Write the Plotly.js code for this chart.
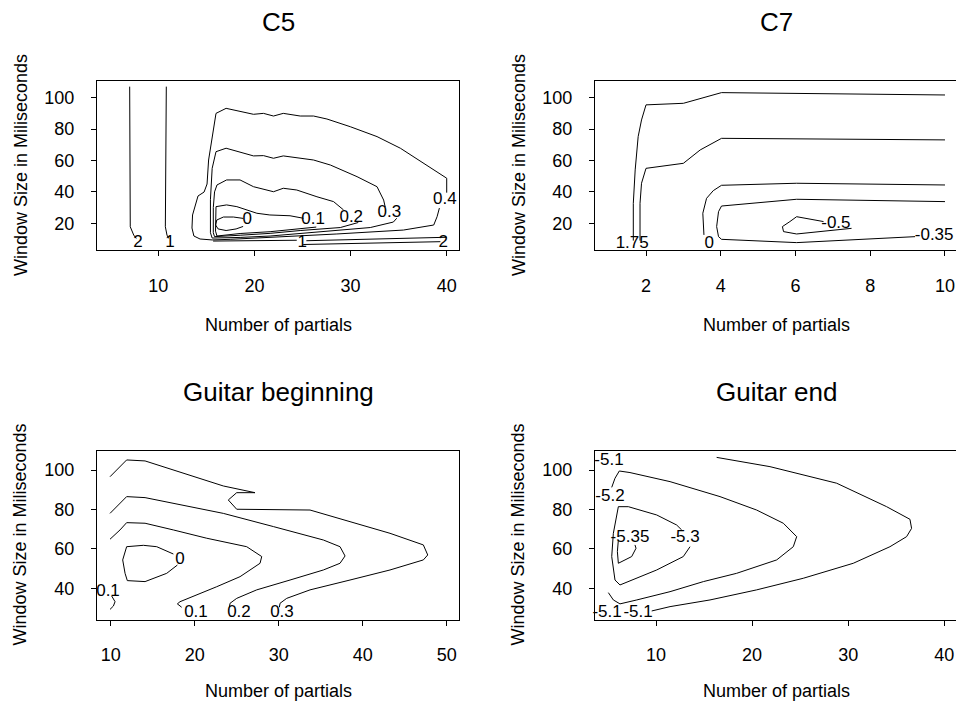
<!DOCTYPE html>
<html>
<head>
<meta charset="utf-8">
<script src="https://cdn.plot.ly/plotly-3.0.1.min.js"></script>
<style>
html,body{margin:0;padding:0;overflow:hidden;background:#fff;}
#chart{width:960px;height:706px;}
</style>
</head>
<body>
<div id="chart"></div>
<script>
// ---------- Panel titles and axis titles ----------
const panelTitles = ["C5", "C7", "Guitar beginning", "Guitar end"];
const xTitle = "Number of partials";
const yTitle = "Window Size in Miliseconds";

// ---------- Tick values ----------
const c5_xticks = [10, 20, 30, 40];
const c7_xticks = [2, 4, 6, 8, 10];
const gb_xticks = [10, 20, 30, 40, 50];
const ge_xticks = [10, 20, 30, 40];
const top_yticks = [20, 40, 60, 80, 100];
const bot_yticks = [40, 60, 80, 100];

// ---------- C5 contours ----------
const c5_l2_x = [7.02, 7.02, 7.05, 7.08, 7.44, 7.71];
const c5_l2_y = [107, 80, 40, 17.8, 12.5, 10.4];
const c5_l1_x = [10.83, 10.8, 10.75, 10.73, 10.9, 11.08];
const c5_l1_y = [107, 70, 35, 17.8, 12.5, 10.4];
const c5_c0_x = [18.85, 17.81, 16.77, 16.08, 15.96, 16.22, 17.05, 18.09, 18.82];
const c5_c0_y = [23.1, 24.0, 24.0, 22.1, 18.9, 16.4, 15.4, 16.4, 18.0];
const c5_c01_x = [26.43, 24.24, 21.63, 18.51, 16.63, 16.1, 15.95, 15.95, 16.0, 17.1, 18.17, 20.25, 21.6, 23.7, 25.1];
const c5_c01_y = [17.6, 16.1, 14.65, 13.5, 12.5, 11.9, 15, 25, 30.6, 31.7, 30.6, 26.4, 25.3, 24.8, 23.2];
const c5_c02_x = [30.8, 28.93, 24.76, 21.63, 18.51, 16.22, 15.85, 15.72, 15.72, 15.85, 16.1, 17.1, 18.5, 19.9, 21.98, 23.0, 24.4, 26.5, 28.23, 29.27];
const c5_c02_y = [20.5, 17.3, 15.4, 13.6, 12.4, 11.3, 11.5, 14, 30, 40, 44.4, 47.6, 47.6, 43.3, 40.1, 42.3, 41.2, 36.9, 33.8, 28.5];
const c5_c03_x = [34.8, 34.45, 32.05, 27.88, 21.63, 18.51, 15.9, 15.6, 15.42, 15.42, 15.6, 16.0, 17.05, 19.9, 20.94, 21.98, 23.0, 24.76, 26.15, 27.9, 30.67, 32.75, 33.44, 33.6];
const c5_c03_y = [23.2, 20.8, 17.3, 15.1, 11.9, 11.0, 10.3, 10.6, 14, 35, 55, 65.6, 67.8, 62.9, 63.1, 61.4, 62.9, 61.4, 60.3, 57.1, 49.7, 43.3, 34.8, 30.4];
const c5_c04_x = [39.24, 39.0, 38.65, 35.5, 28.57, 21.63, 17.47, 15.6, 14.34, 13.7, 13.5, 13.56, 13.88, 14.13, 14.76, 15.07, 15.23, 15.6, 16.0, 17.05, 19.9, 20.94, 21.98, 23.0, 24.76, 26.15, 27.54, 29.97, 32.75, 35.18, 37.96, 40.0, 40.0];
const c5_c04_y = [29.7, 24.2, 18.9, 15.7, 13.2, 10.8, 9.8, 9.4, 10.0, 11.9, 17, 25.3, 31.7, 37.4, 39.9, 45, 60.3, 76.2, 90, 93.2, 89.4, 90, 88.3, 90, 88.3, 88.3, 86.4, 81.5, 75.2, 67.8, 57.1, 48.7, 39.5];
const c5_c1a_x = [15.7, 18.5, 21.6, 24.4];
const c5_c1a_y = [8.7, 9.0, 9.2, 9.2];
const c5_c1b_x = [25.4, 40.0];
const c5_c1b_y = [8.9, 11.1];
const c5_c2b_x = [25.07, 39.34];
const c5_c2b_y = [6.5, 8.3];
const c5_lab_text = ["2", "1", "0", "0.1", "0.2", "0.3", "0.4", "1", "2"];
const c5_lab_x = [7.89, 11.22, 19.24, 26.11, 30.07, 34.03, 39.8, 24.97, 39.65];
const c5_lab_y = [7.45, 7.45, 22.1, 22.1, 23.4, 26.6, 34.8, 7.45, 7.45];

// ---------- C7 contours ----------
const c7_a_x = [1.66, 1.66, 1.71, 1.79, 1.88, 2.0, 3.0, 4.02, 10.0];
const c7_a_y = [9, 32.7, 54, 75.2, 85.8, 95.4, 96.4, 103.2, 101.7];
const c7_b_x = [1.84, 1.84, 1.88, 2.0, 3.0, 3.45, 4.02, 10.0];
const c7_b_y = [9, 32.7, 45.5, 55, 58.2, 66.7, 74.1, 73.1];
const c7_c_x = [3.55, 3.52, 3.62, 3.80, 4.02, 6.03, 10.0];
const c7_c_y = [12.6, 26.4, 35.9, 40.8, 44.2, 45.5, 44.4];
const c7_d_x = [10.0, 6.03, 4.02, 3.94, 3.89, 3.94, 4.02, 6.03, 9.2];
const c7_d_y = [33.8, 35.3, 31.0, 27.4, 17.9, 11.5, 9.8, 7.7, 11.5];
const c7_e_x = [7.5, 6.03, 5.68, 5.65, 5.85, 6.03, 6.75];
const c7_e_y = [16.8, 13.2, 14.7, 17.9, 21.1, 24.2, 21.1];
const c7_lab_text = ["1.75", "0", "-0.5", "-0.35"];
const c7_lab_x = [1.63, 3.69, 7.08, 9.71];
const c7_lab_y = [7.3, 7.3, 19.4, 11.9];

// ---------- Guitar beginning contours ----------
const gb_03_x = [9.92, 11.11, 11.9, 14.09, 17.46, 20.63, 23.41, 27.18, 25.0, 24.0, 25.0, 33.73, 37.7, 43.25, 47.22, 47.74, 47.22, 43.25, 38.49, 33.73, 30.95, 30.16, 30.08];
const gb_03_y = [96.6, 101.7, 105.1, 104.6, 100.0, 95.8, 91.9, 88.5, 88.5, 84.8, 80.1, 79.7, 74.7, 67.9, 62.0, 56.9, 54.4, 49.3, 44.2, 39.2, 34.9, 32.4, 30.4];
const gb_02_x = [9.92, 11.11, 11.9, 14.09, 17.46, 23.41, 29.37, 35.32, 37.3, 37.9, 37.3, 35.32, 31.35, 27.38, 25.0, 24.21, 24.13];
const gb_02_y = [78.0, 83.1, 86.5, 86.0, 83.1, 78.0, 71.3, 64.5, 61.1, 56.4, 52.7, 49.3, 44.2, 39.2, 34.9, 32.4, 30.4];
const gb_01_x = [9.92, 11.11, 11.9, 14.09, 17.46, 21.43, 26.19, 27.98, 27.78, 25.4, 22.62, 20.24, 18.25, 17.94, 18.45];
const gb_01_y = [64.9, 69.6, 73.3, 73.0, 69.6, 65.4, 61.1, 56.1, 52.7, 45.9, 40.8, 36.6, 33.2, 32.1, 30.4];
const gb_0_x = [17.46, 15.48, 13.89, 11.9, 11.43, 11.71, 11.98, 14.09, 16.67, 17.94];
const gb_0_y = [57.4, 61.1, 61.8, 61.1, 54.4, 47.6, 43.9, 43.4, 47.6, 51.8];
const gb_01b_x = [10.12, 10.52, 10.32, 9.92];
const gb_01b_y = [36.1, 33.2, 31.0, 29.3];
const gb_lab_text = ["0", "0.1", "0.1", "0.2", "0.3"];
const gb_lab_x = [18.25, 9.68, 20.15, 25.27, 30.39];
const gb_lab_y = [54.4, 38.3, 27.5, 27.5, 27.5];

// ---------- Guitar end contours ----------
const ge_a_x = [16.31, 21.86, 28.8, 34.0, 36.43, 36.6, 36.08, 34.35, 30.53, 25.33, 20.47, 15.62, 11.46, 9.55];
const ge_a_y = [106.4, 101.7, 93.3, 81.4, 75.0, 70.4, 66.2, 61.1, 52.7, 45.1, 39.2, 34.1, 30.7, 28.5];
const ge_b_x = [5.39, 5.73, 6.18, 7.29, 11.46, 16.66, 20.47, 23.25, 24.64, 24.29, 22.56, 18.39, 14.93, 11.46, 8.0, 6.25, 5.56, 5.04];
const ge_b_y = [91.2, 95.8, 99.5, 98.7, 94.1, 86.5, 79.7, 73.0, 66.2, 61.1, 54.4, 47.6, 43.4, 38.3, 34.1, 32.1, 34.1, 37.8];
const ge_c_x = [13.54, 12.84, 10.07, 6.25, 5.73, 5.39, 5.56, 5.91, 6.08, 7.12, 10.07, 12.15, 12.67];
const ge_c_y = [61.1, 56.1, 49.3, 41.7, 44.2, 56.1, 67.9, 78.0, 81.4, 81.4, 77.2, 72.1, 69.6];
const ge_d_x = [7.81, 7.92, 7.47, 6.08, 5.98, 6.08];
const ge_d_y = [62.0, 60.3, 56.1, 52.7, 58.6, 64.5];
const ge_lab_text = ["-5.1", "-5.2", "-5.35", "-5.3", "-5.1", "-5.1"];
const ge_lab_x = [5.1, 5.21, 7.29, 13.02, 4.9, 8.13];
const ge_lab_y = [104.6, 86.3, 65.5, 65.5, 27.5, 27.5];

// ---------- build ----------
const FONT = "Liberation Sans, Arial, Helvetica, sans-serif";
const traces = [];
function addLine(x, y, ax) {
  traces.push({type: "scatter", mode: "lines", x: x, y: y,
    xaxis: "x" + ax, yaxis: "y" + ax,
    line: {color: "#000", width: 1}, hoverinfo: "skip", showlegend: false});
}
function addLabels(t, x, y, ax) {
  traces.push({type: "scatter", mode: "text", x: x, y: y, text: t,
    xaxis: "x" + ax, yaxis: "y" + ax, cliponaxis: false,
    textposition: "middle center",
    textfont: {family: FONT, size: 17, color: "#000"},
    hoverinfo: "skip", showlegend: false});
}
addLine(c5_l2_x, c5_l2_y, "");
addLine(c5_l1_x, c5_l1_y, "");
addLine(c5_c0_x, c5_c0_y, "");
addLine(c5_c01_x, c5_c01_y, "");
addLine(c5_c02_x, c5_c02_y, "");
addLine(c5_c03_x, c5_c03_y, "");
addLine(c5_c04_x, c5_c04_y, "");
addLine(c5_c1a_x, c5_c1a_y, "");
addLine(c5_c1b_x, c5_c1b_y, "");
addLine(c5_c2b_x, c5_c2b_y, "");
addLabels(c5_lab_text, c5_lab_x, c5_lab_y, "");

addLine(c7_a_x, c7_a_y, "2");
addLine(c7_b_x, c7_b_y, "2");
addLine(c7_c_x, c7_c_y, "2");
addLine(c7_d_x, c7_d_y, "2");
addLine(c7_e_x, c7_e_y, "2");
addLabels(c7_lab_text, c7_lab_x, c7_lab_y, "2");

addLine(gb_03_x, gb_03_y, "3");
addLine(gb_02_x, gb_02_y, "3");
addLine(gb_01_x, gb_01_y, "3");
addLine(gb_0_x, gb_0_y, "3");
addLine(gb_01b_x, gb_01b_y, "3");
addLabels(gb_lab_text, gb_lab_x, gb_lab_y, "3");

addLine(ge_a_x, ge_a_y, "4");
addLine(ge_b_x, ge_b_y, "4");
addLine(ge_c_x, ge_c_y, "4");
addLine(ge_d_x, ge_d_y, "4");
addLabels(ge_lab_text, ge_lab_x, ge_lab_y, "4");

const W = 960, H = 706;
const L1 = 97, R1 = 459.3, L2 = 595, R2 = 958;
const T1 = 81, B1 = 250, T2 = 450.7, B2 = 619.5;

function ax(extra) {
  return Object.assign({
    showline: true, mirror: true, linecolor: "#000", linewidth: 1,
    ticks: "outside", ticklen: 5, tickcolor: "#000", tickwidth: 1,
    showgrid: false, zeroline: false, fixedrange: true,
    tickfont: {family: FONT, size: 18, color: "#000"}
  }, extra);
}
const xs = 14, ys = 13;
const layout = {
  width: W, height: H, autosize: false,
  margin: {l: 0, r: 0, t: 0, b: 0},
  paper_bgcolor: "#fff", plot_bgcolor: "#fff",
  font: {family: FONT, color: "#000"},
  showlegend: false,
  xaxis:  ax({domain: [L1 / W, R1 / W], range: [3.62, 41.31], tickvals: c5_xticks, anchor: "y", ticklabelstandoff: xs}),
  yaxis:  ax({domain: [1 - B1 / H, 1 - T1 / H], range: [3.0, 110.6], tickvals: top_yticks, anchor: "x", ticklabelstandoff: ys}),
  xaxis2: ax({domain: [L2 / W, R2 / W], range: [0.635, 10.348], tickvals: c7_xticks, anchor: "y2", ticklabelstandoff: xs}),
  yaxis2: ax({domain: [1 - B1 / H, 1 - T1 / H], range: [3.0, 110.6], tickvals: top_yticks, anchor: "x2", ticklabelstandoff: ys}),
  xaxis3: ax({domain: [L1 / W, R1 / W], range: [8.37, 51.5], tickvals: gb_xticks, anchor: "y3", ticklabelstandoff: xs}),
  yaxis3: ax({domain: [1 - B2 / H, 1 - T2 / H], range: [24.18, 109.79], tickvals: bot_yticks, anchor: "x3", ticklabelstandoff: ys}),
  xaxis4: ax({domain: [L2 / W, R2 / W], range: [3.65, 41.43], tickvals: ge_xticks, anchor: "y4", ticklabelstandoff: xs}),
  yaxis4: ax({domain: [1 - B2 / H, 1 - T2 / H], range: [24.18, 109.79], tickvals: bot_yticks, anchor: "x4", ticklabelstandoff: ys}),
  annotations: []
};
const cx = [(L1 + R1) / 2, (L2 + R2) / 2, (L1 + R1) / 2, (L2 + R2) / 2];
const titleY = [22, 22, 392, 392];
const xlabY = [325, 325, 691, 691];
const ylabX = [20.5, 518.5, 20.5, 518.5];
const ylabY = [(T1 + B1) / 2, (T1 + B1) / 2, (T2 + B2) / 2, (T2 + B2) / 2];
for (let i = 0; i < 4; i++) {
  layout.annotations.push({xref: "paper", yref: "paper", x: cx[i] / W, y: 1 - titleY[i] / H,
    text: panelTitles[i], showarrow: false, xanchor: "center", yanchor: "middle",
    font: {family: FONT, size: 26, color: "#000"}});
  layout.annotations.push({xref: "paper", yref: "paper", x: cx[i] / W, y: 1 - xlabY[i] / H,
    text: xTitle, showarrow: false, xanchor: "center", yanchor: "middle",
    font: {family: FONT, size: 18, color: "#000"}});
  layout.annotations.push({xref: "paper", yref: "paper", x: ylabX[i] / W, y: 1 - ylabY[i] / H,
    text: yTitle, showarrow: false, xanchor: "center", yanchor: "middle", textangle: -90,
    font: {family: FONT, size: 18, color: "#000"}});
}
Plotly.newPlot("chart", traces, layout, {staticPlot: true, displayModeBar: false});
</script>
</body>
</html>
